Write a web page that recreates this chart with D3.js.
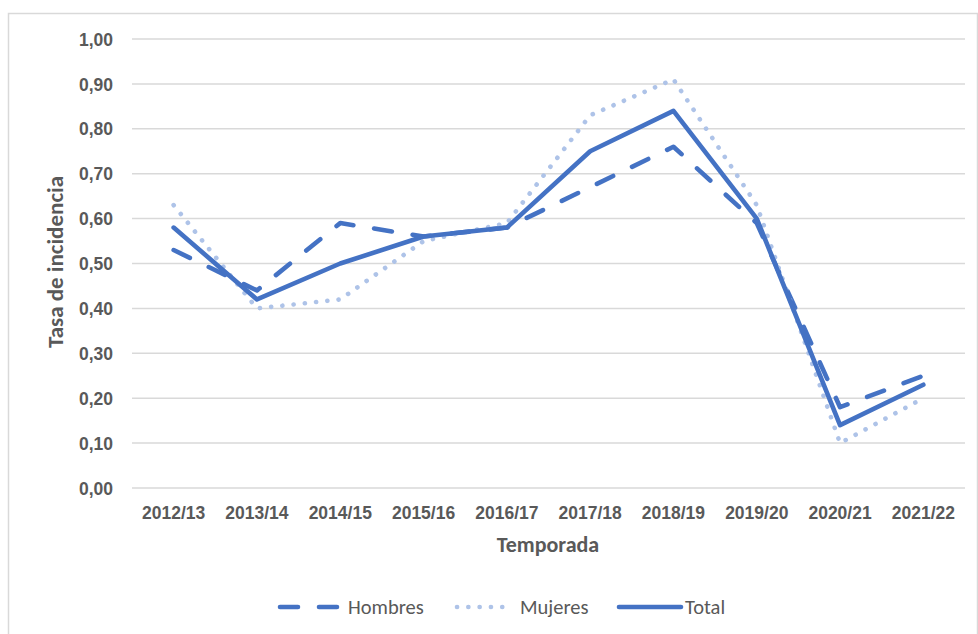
<!DOCTYPE html>
<html>
<head>
<meta charset="utf-8">
<script src="https://cdn.jsdelivr.net/npm/d3@7"></script>
<style>
  html, body { margin: 0; padding: 0; background: #fff; }
  svg { display: block; font-family: Carlito, Calibri, Lato, "Open Sans", sans-serif; }
</style>
</head>
<body>
<svg id="chart" width="978" height="634"></svg>
<script>
const categories = ["2012/13","2013/14","2014/15","2015/16","2016/17","2017/18","2018/19","2019/20","2020/21","2021/22"];
const hombres = [0.53, 0.44, 0.59, 0.56, 0.58, 0.67, 0.76, 0.59, 0.18, 0.25];
const mujeres = [0.63, 0.40, 0.42, 0.55, 0.59, 0.83, 0.91, 0.63, 0.10, 0.20];
const total   = [0.58, 0.42, 0.50, 0.56, 0.58, 0.75, 0.84, 0.60, 0.14, 0.23];
const yTicks  = [0, 0.1, 0.2, 0.3, 0.4, 0.5, 0.6, 0.7, 0.8, 0.9, 1.0];
const seriesNames = ["Hombres", "Mujeres", "Total"];

const blue = "#4472C4", light = "#AEC3E8", textCol = "#595959", grid = "#D9D9D9";

const svg = d3.select("#chart");

// outer chart border
svg.append("rect").attr("x", 8.5).attr("y", 13.5).attr("width", 969).attr("height", 700)
  .attr("fill", "none").attr("stroke", grid).attr("stroke-width", 1.5);

const x = d3.scaleBand().domain(categories).range([132, 965]);
const y = d3.scaleLinear().domain([0, 1]).range([488, 39]);

// gridlines
svg.append("g").selectAll("line").data(yTicks).join("line")
  .attr("x1", 132).attr("x2", 965)
  .attr("y1", d => y(d)).attr("y2", d => y(d))
  .attr("stroke", grid).attr("stroke-width", 1.5);

// y axis labels
const yAxis = d3.axisLeft(y).tickValues(yTicks).tickSize(0).tickPadding(0)
  .tickFormat(d => d3.format(".2f")(d).replace(".", ","));
const gy = svg.append("g").attr("transform", "translate(113,0)").call(yAxis);
gy.select(".domain").remove();
gy.selectAll("text").attr("fill", textCol).attr("font-size", 17.5).attr("font-weight", "bold")
  .attr("font-family", null).attr("dy", "0.35em");

// x axis labels
const xAxis = d3.axisBottom(x).tickSize(0).tickPadding(0);
const gx = svg.append("g").attr("transform", "translate(0,519)").call(xAxis);
gx.select(".domain").remove();
gx.selectAll("text").attr("fill", textCol).attr("font-size", 17.5).attr("font-weight", "bold")
  .attr("font-family", null).attr("dy", 0).attr("y", 0);

// axis titles
svg.append("text").attr("x", 548).attr("y", 552).attr("text-anchor", "middle")
  .attr("fill", textCol).attr("font-size", 22).attr("font-weight", "bold").text("Temporada");
svg.append("text").attr("transform", "translate(63,262) rotate(-90)").attr("text-anchor", "middle")
  .attr("fill", textCol).attr("font-size", 23).attr("font-weight", "bold").text("Tasa de incidencia");

const line = d3.line().x((d, i) => x(categories[i]) + x.bandwidth() / 2).y(d => y(d));

const styles = {
  Hombres: { color: blue, width: 4.6, dash: "18,21" },
  Mujeres: { color: light, width: 4.6, dash: "0.1,11.2" },
  Total:   { color: blue, width: 4.6, dash: null }
};
const data = { Hombres: hombres, Mujeres: mujeres, Total: total };

seriesNames.forEach(name => {
  const s = styles[name];
  svg.append("path").datum(data[name]).attr("d", line)
    .attr("fill", "none").attr("stroke", s.color).attr("stroke-width", s.width)
    .attr("stroke-linecap", "round").attr("stroke-linejoin", "round")
    .attr("stroke-dasharray", s.dash);
});

// legend
const legendItems = [
  { name: "Hombres", x1: 280, x2: 337, tx: 348 },
  { name: "Mujeres", x1: 457, x2: 513, tx: 520 },
  { name: "Total",   x1: 619, x2: 681, tx: 685 }
];
const ly = 607;
const lg = svg.append("g");
legendItems.forEach(it => {
  const s = styles[it.name];
  lg.append("line").attr("x1", it.x1).attr("x2", it.x2).attr("y1", ly).attr("y2", ly)
    .attr("stroke", s.color).attr("stroke-width", s.width).attr("stroke-linecap", "round")
    .attr("stroke-dasharray", s.dash);
  lg.append("text").attr("x", it.tx).attr("y", ly).attr("dy", "0.35em")
    .attr("fill", textCol).attr("font-size", 20.5).text(it.name);
});
</script>
</body>
</html>
